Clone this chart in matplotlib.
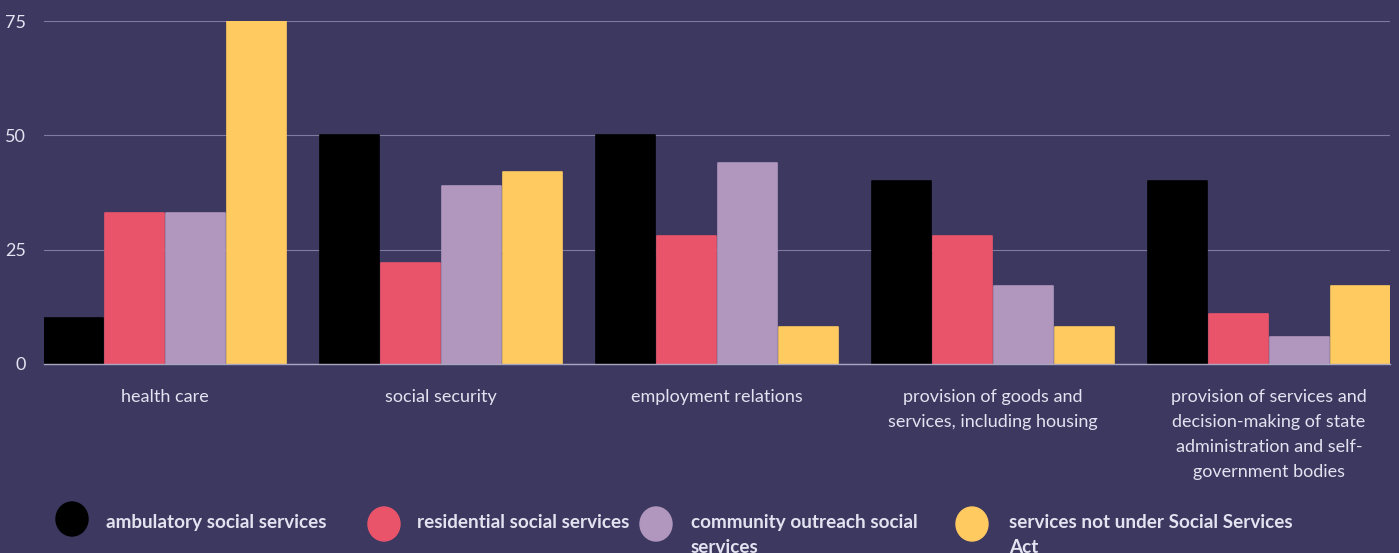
import numpy as np
import matplotlib
matplotlib.use("Agg")
import matplotlib.pyplot as plt
from matplotlib.patches import Ellipse

categories = ["health care", "social security", "employment relations",
              "provision of goods and\nservices, including housing",
              "provision of services and\ndecision-making of state\nadministration and self-\ngovernment bodies"]
series_names = ["ambulatory social services", "residential social services",
                "community outreach social\nservices", "services not under Social Services\nAct"]
ambulatory = [10, 50, 50, 40, 40]
residential = [33, 22, 28, 28, 11]
community = [33, 39, 44, 17, 6]
not_under_act = [75, 42, 8, 8, 17]
yticks = [0, 25, 50, 75]

colors = ["#000000", "#ea546a", "#b196be", "#ffca5f"]
bg = "#3d3860"
text_col = "#e4e2f0"

plt.rcParams['font.family'] = ['Lato', 'DejaVu Sans']

fig = plt.figure(figsize=(13.99, 5.53), dpi=100, facecolor=bg)
W, H = 1399, 553
ax = fig.add_axes([44 / W, 1 - 364 / H, 1346 / W, 343 / H])
ax.set_facecolor(bg)

x = np.arange(len(categories))
step = 61 / 276
width = 59 / 276
for i, vals in enumerate([ambulatory, residential, community, not_under_act]):
    ax.bar(x + (i - 1.5) * step, vals, width, color=colors[i], edgecolor=colors[i],
           linewidth=1.2, joinstyle="round", zorder=3)

ax.set_xlim(-121 / 276, 4 + 121 / 276)
ax.set_ylim(0, 75)
ax.set_yticks(yticks)
ax.set_yticklabels([str(t) for t in yticks], fontsize=13, color=text_col)
ax.yaxis.grid(True, color="#7f7a9e", linewidth=0.8, zorder=0)
ax.set_xticks(x)
ax.set_xticklabels(categories, fontsize=13, color=text_col, linespacing=1.7, va="top")
ax.tick_params(axis="x", length=0, pad=18)
ax.tick_params(axis="y", length=0, pad=13)
for s in ["top", "right", "left"]:
    ax.spines[s].set_visible(False)
ax.spines["bottom"].set_color("#a9a6bf")
ax.spines["bottom"].set_linewidth(1.0)
ax.spines["bottom"].set_zorder(4)

# legend along the bottom
marker_x = [72, 384, 656, 972]
text_x = [106, 417, 691, 1009]
marker_y = [519, 524, 524, 524]
for i in range(4):
    fig.add_artist(Ellipse((marker_x[i] / W, 1 - marker_y[i] / H), 32 / W, 34 / H,
                           transform=fig.transFigure, color=colors[i]))
    fig.text(text_x[i] / W, 1 - 514 / H, series_names[i], fontsize=13.6, color=text_col,
             weight="bold", va="top", ha="left", linespacing=1.55)

fig.savefig("out.png", dpi=100, facecolor=bg)
